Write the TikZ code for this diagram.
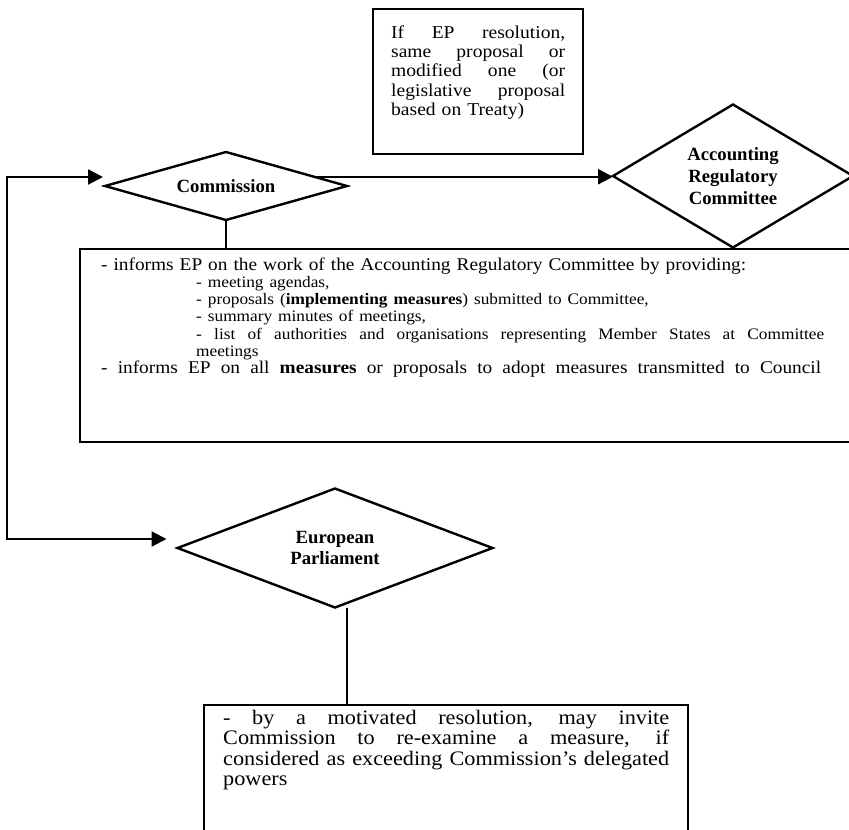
\documentclass[tikz,border=0pt]{standalone}
\usepackage{fontspec}
\setmainfont{Liberation Serif}
\newfontfamily\boxfont{Liberation Serif}[FakeStretch=1.08]
\usetikzlibrary{shapes.geometric, arrows.meta, positioning}
\newcommand{\fillline}[2][\linewidth]{\makebox[#1][s]{\spaceskip=0.25em plus 1fil\relax #2}}
\newcommand{\subline}[1]{{\fontsize{16}{17.2}\selectfont\hspace*{95pt}#1}}

\begin{document}
\begin{tikzpicture}[
    x=1pt, y=-1pt,
    >={Triangle[length=15pt, width=15pt]},
    decision/.style={diamond, draw, line width=2.4pt, inner sep=0pt, outer sep=0pt, align=center, font=\bfseries\fontsize{18.7}{21.7}\selectfont},
    textbox/.style={rectangle, draw, line width=2.4pt, anchor=north west, inner ysep=0pt, align=left},
    line/.style={line width=2.4pt},
    arrow/.style={line, ->}
]
    \useasboundingbox (0,0) rectangle (849,830);
    \clip (0,0) rectangle (849,830);

    % Condition box
    \node[textbox, inner xsep=18pt, text width=174pt, text height=29pt, text depth=116pt,
          font=\boxfont\fontsize{18.1}{19.3}\selectfont] (cond) at (372,8)
      {\fillline{If EP resolution,}\\ \fillline{same proposal or}\\ \fillline{modified one (or}\\
       \fillline{legislative proposal}\\ based on Treaty)};

    % Decisions
    \node[decision, aspect=3.56, minimum width=242pt, minimum height=68pt] (comm) at (226,186) {Commission};
    \node[decision, aspect=1.68, minimum width=240pt, minimum height=143pt] (arc) at (733,176) {Accounting\\Regulatory\\Committee};
    \node[decision, aspect=2.65, minimum width=315pt, minimum height=119pt] (ep) at (335,548) {European\\Parliament};

    % Information duties
    \node[textbox, inner xsep=21pt, text width=739pt, text height=21pt, text depth=172pt,
          font=\boxfont\fontsize{17.9}{17.2}\selectfont] (info) at (79,248)
      {- informs EP on the work of the Accounting Regulatory Committee by providing:\\
       \subline{- meeting agendas,}\\
       \subline{- proposals (\textbf{implementing measures}) submitted to Committee,}\\
       \subline{- summary minutes of meetings,}\\
       \subline{\fillline[628pt]{- list of authorities and organisations representing Member States at Committee}}\\
       \subline{meetings}\\
       \fillline[720pt]{- informs EP on all \textbf{measures} or proposals to adopt measures transmitted to Council}};

    % Resolution box
    \node[textbox, inner xsep=19pt, text width=446pt, text height=19pt, text depth=150pt,
          font=\boxfont\fontsize{20.6}{20.5}\selectfont] (resol) at (203,704)
      {\fillline{- by a motivated resolution, may invite}\\
       \fillline{Commission to re-examine a measure, if}\\
       \fillline{considered as exceeding Commission’s delegated}\\
       powers};

    % Connectors
    \coordinate (commin) at ([xshift=-2pt, yshift=9pt]comm.west);
    \coordinate (epin) at ([xshift=-11pt, yshift=9pt]ep.west);
    \coordinate (turn) at (7,360);

    \draw[arrow] (comm.6) -- (comm.6 -| arc.west);
    \draw[line] (comm.south) -- (comm.south |- info.north);
    \draw[line, <->] (commin) -| (turn) |- (epin);
    \draw[line] ([xshift=12pt]ep.south) -- ([xshift=12pt]ep.south |- resol.north);
\end{tikzpicture}
\end{document}
